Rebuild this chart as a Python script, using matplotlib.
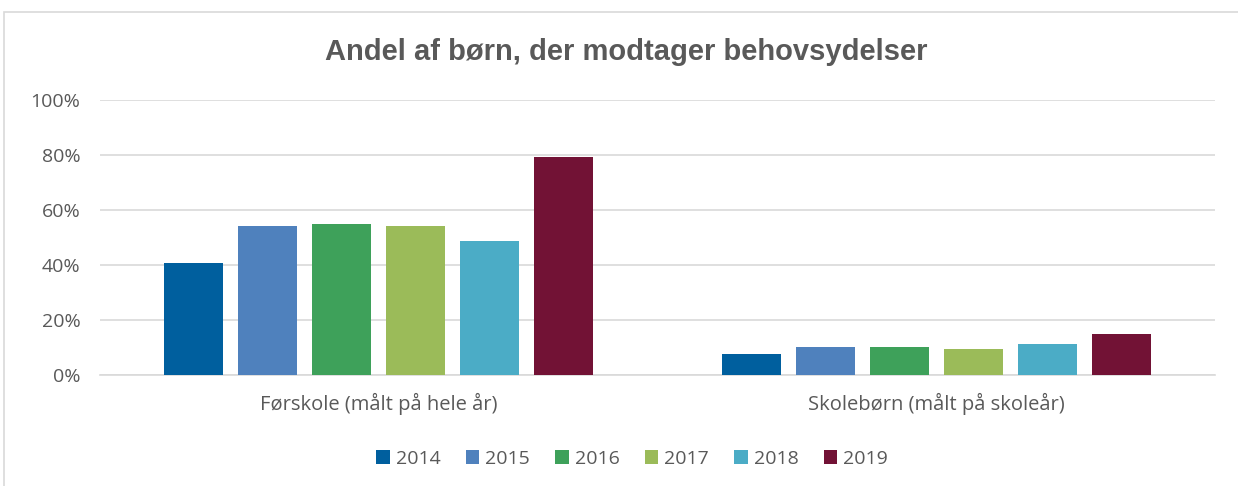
import matplotlib.pyplot as plt
import numpy as np
from matplotlib.patches import Rectangle

plt.rcParams['font.family'] = ['Open Sans', 'DejaVu Sans']

# Data
categories = ["Førskole (målt på hele år)", "Skolebørn (målt på skoleår)"]
years = ["2014", "2015", "2016", "2017", "2018", "2019"]
values = {
    "2014": [40.7, 7.7],
    "2015": [54.2, 10.3],
    "2016": [54.9, 10.3],
    "2017": [54.2, 9.5],
    "2018": [48.8, 11.4],
    "2019": [79.4, 14.8],
}
colors = ["#005F9E", "#4F81BD", "#3EA15A", "#9BBB59", "#4BACC6", "#721235"]

text_color = "#595959"
grid_color = "#D9D9D9"

fig = plt.figure(figsize=(12.38, 4.86), dpi=100)
ax = fig.add_axes([100 / 1238, 1 - 375 / 486, 1115 / 1238, 275 / 486])

# frame around the chart area
fig.patches.append(Rectangle((4 / 1238, -0.1), 1.2, 1 - 12 / 486 + 0.1,
                             transform=fig.transFigure, fill=False,
                             edgecolor=grid_color, linewidth=1.2))

x = np.arange(len(categories))
step = 0.1327
width = 0.106
for i, (yr, col) in enumerate(zip(years, colors)):
    offs = (i - (len(years) - 1) / 2) * step
    ax.bar(x + offs, values[yr], width, color=col, label=yr, zorder=3)

ax.set_xlim(-0.5, 1.5)
ax.set_ylim(0, 100)
ax.set_yticks(np.arange(0, 101, 20))
ax.set_yticklabels([f"{v}%" for v in range(0, 101, 20)])
ax.set_xticks(x)
ax.set_xticklabels(categories)
ax.grid(axis='y', color=grid_color, linewidth=1.2, zorder=0)
for s in ["top", "right", "left"]:
    ax.spines[s].set_visible(False)
ax.spines["bottom"].set_color(grid_color)
ax.spines["bottom"].set_linewidth(1.2)
ax.tick_params(axis='both', length=0, colors=text_color)
ax.tick_params(axis='x', pad=13, labelsize=14.5)
ax.tick_params(axis='y', pad=14, labelsize=14)

fig.text(0.506, 1 - 52 / 486, "Andel af børn, der modtager behovsydelser",
         ha='center', va='center', fontsize=21, fontweight='bold',
         color=text_color, family=['Liberation Sans', 'DejaVu Sans'])

leg = fig.legend(loc='center', bbox_to_anchor=(632 / 1238, 1 - 459 / 486), ncol=6,
                 frameon=False, fontsize=14, handlelength=0.7, handleheight=0.7,
                 handletextpad=0.3, columnspacing=1.3)
for t in leg.get_texts():
    t.set_color(text_color)

fig.savefig("out.png", dpi=100)
